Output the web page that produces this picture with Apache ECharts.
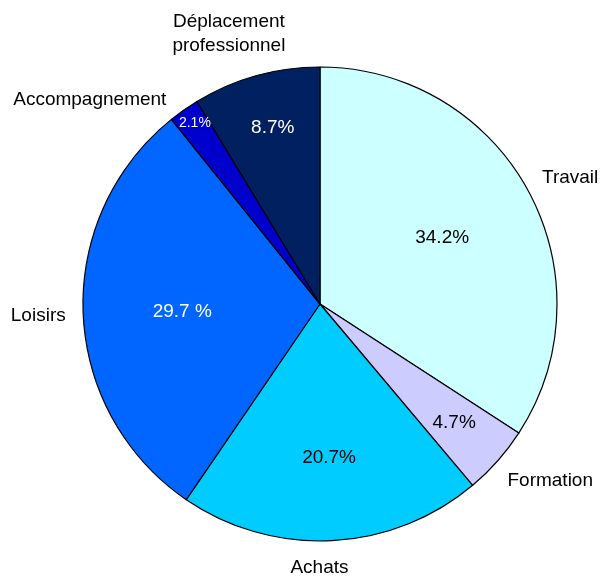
<!DOCTYPE html>
<html>
<head>
<meta charset="utf-8">
<script src="https://cdn.jsdelivr.net/npm/echarts@6/dist/echarts.min.js"></script>
<style>html,body{margin:0;padding:0;background:#fff}#c{width:600px;height:576px}</style>
</head>
<body>
<div id="c"></div>
<script>
// Data
const categories = ['Travail', 'Formation', 'Achats', 'Loisirs', 'Accompagnement', 'Déplacement professionnel'];
const values = [34.2, 4.7, 20.7, 29.7, 2.1, 8.7];
const percentSuffix = ['%', '%', '%', ' %', '%', '%'];

// Styles
const colors = ['#CCFFFF', '#CCCCFF', '#00CCFF', '#0066FF', '#0000CC', '#002060'];
const innerTextColors = ['#000', '#000', '#000', '#fff', '#fff', '#fff'];
const innerFontSizes = [19, 19, 19, 19, 14, 19];
const innerLabelRadius = [139, 179, 154, 138, 220, 182];
const innerAngleShift = [0, 0, -0.5, -1, 0.4, 0.6];
const outerLabelRadius = [280, 290, 264, 282, 308, 285];
const outerAngleShift = [1.8, -4, 3, -0.2, -13.3, -3];

const CX = 320, CY = 304, R = 237;
const total = values.reduce((a, b) => a + b, 0);
const midAngles = [];
let acc = 0;
values.forEach(v => { midAngles.push((acc + v / 2) / total * 360); acc += v; });

function polar(angleDeg, r) {
  const a = angleDeg * Math.PI / 180;
  return { x: CX + r * Math.sin(a), y: CY - r * Math.cos(a) };
}

const data = categories.map((n, i) => ({ name: n, value: values[i], itemStyle: { color: colors[i] } }));
const overlayData = categories.map((n, i) => ({
  name: n, value: values[i],
  label: { color: innerTextColors[i], fontSize: innerFontSizes[i] }
}));

const chart = echarts.init(document.getElementById('c'));
chart.setOption({
  animation: false,
  backgroundColor: '#fff',
  series: [
    {
      type: 'pie',
      center: [CX, CY],
      radius: R,
      startAngle: 90,
      clockwise: true,
      avoidLabelOverlap: false,
      silent: true,
      data: data,
      itemStyle: { borderColor: '#000', borderWidth: 1.2 },
      label: {
        show: true,
        position: 'outside',
        fontFamily: 'Liberation Sans, Arial, sans-serif',
        fontSize: 19,
        lineHeight: 24,
        color: '#000',
        formatter: p => p.name.replace(' ', '\n')
      },
      labelLine: { show: false },
      labelLayout: function (params) {
        const i = params.dataIndex;
        const pt = polar(midAngles[i] + outerAngleShift[i], outerLabelRadius[i]);
        return { x: pt.x, y: pt.y, align: 'center', verticalAlign: 'middle' };
      }
    },
    {
      type: 'pie',
      center: [CX, CY],
      radius: R,
      startAngle: 90,
      clockwise: true,
      avoidLabelOverlap: false,
      silent: true,
      data: overlayData,
      itemStyle: { color: 'rgba(0,0,0,0)', borderWidth: 0 },
      label: {
        show: true,
        position: 'inside',
        fontFamily: 'Liberation Sans, Arial, sans-serif',
        fontSize: 19,
        formatter: p => p.value.toFixed(1) + percentSuffix[p.dataIndex]
      },
      labelLine: { show: false },
      labelLayout: function (params) {
        const i = params.dataIndex;
        const pt = polar(midAngles[i] + innerAngleShift[i], innerLabelRadius[i]);
        return { x: pt.x, y: pt.y, align: 'center', verticalAlign: 'middle' };
      }
    }
  ]
});
</script>
</body>
</html>
